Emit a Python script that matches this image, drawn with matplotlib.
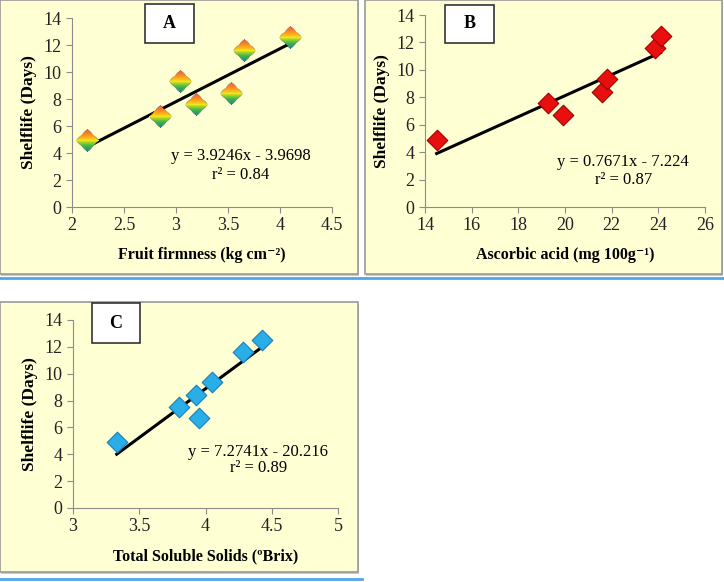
import numpy as np
import matplotlib
matplotlib.use("Agg")
import matplotlib.pyplot as plt
from matplotlib.patches import Rectangle
from matplotlib.offsetbox import OffsetImage, AnnotationBbox

plt.rcParams["font.family"] = ["Liberation Serif", "DejaVu Serif"]

# panel A: fruit firmness
firm_x = [2.15, 2.85, 3.04, 3.19, 3.53, 3.66, 4.10]
firm_y = [4.9, 6.7, 9.3, 7.6, 8.4, 11.6, 12.5]
# panel B: ascorbic acid
asc_x = [14.5, 19.25, 19.9, 21.6, 21.8, 23.85, 24.1]
asc_y = [4.85, 7.6, 6.7, 8.4, 9.3, 11.6, 12.5]
# panel C: total soluble solids
tss_x = [3.33, 3.80, 3.93, 3.95, 4.05, 4.28, 4.43]
tss_y = [4.9, 7.55, 8.4, 6.7, 9.35, 11.6, 12.5]

W, H = 724, 582
BG = "#FFFFD4"

fig = plt.figure(figsize=(W / 100, H / 100), dpi=100)


def fx(px):
    return px / W


def fy(py):
    return 1 - py / H


def panel(x0, y0, x1, y1):
    fig.patches.append(Rectangle((fx(x0) + 0.002, fy(y1) - 0.003), fx(x1 - x0), (y1 - y0) / H,
                                 transform=fig.transFigure, facecolor="#C8C8C8",
                                 edgecolor="none", zorder=-3))
    fig.patches.append(Rectangle((fx(x0), fy(y1)), fx(x1 - x0), (y1 - y0) / H,
                                 transform=fig.transFigure, facecolor=BG,
                                 edgecolor="#9A9A9A", linewidth=1.2, zorder=-2))


def label_box(x0, y0, x1, y1, letter):
    fig.patches.append(Rectangle((fx(x0), fy(y1)), fx(x1 - x0), (y1 - y0) / H,
                                 transform=fig.transFigure, facecolor="white",
                                 edgecolor="#333333", linewidth=1.2, zorder=5))
    fig.text(fx((x0 + x1) / 2), fy((y0 + y1) / 2), letter, ha="center", va="center",
             fontsize=13, fontweight="bold", zorder=6)


def make_axes(l, r, t, b):
    ax = fig.add_axes([fx(l), fy(b), fx(r - l), (b - t) / H])
    ax.set_facecolor("none")
    for s in ["top", "right"]:
        ax.spines[s].set_visible(False)
    for s in ["left", "bottom"]:
        ax.spines[s].set_color("#8C8C8C")
    ax.tick_params(colors="#8C8C8C", labelcolor="#222222", labelsize=13, length=4, direction="out")
    ax.set_ylim(0, 14)
    ax.set_yticks(range(0, 15, 2))
    ax.set_ylabel("Shelflife (Days)", fontsize=12.5, fontweight="bold", labelpad=5)
    return ax


def fit_line(ax, xs, slope, icpt):
    xx = np.array([min(xs), max(xs)])
    ax.plot(xx, slope * xx + icpt, color="black", linewidth=2.2, zorder=2)


def rainbow_diamond(n=19):
    img = np.zeros((n, n, 4))
    stops = [(0.0, (0.93, 0.35, 0.25)), (0.3, (1.0, 0.62, 0.1)), (0.5, (0.95, 0.9, 0.1)),
             (0.7, (0.3, 0.75, 0.25)), (1.0, (0.1, 0.5, 0.55))]
    c = (n - 1) / 2
    for i in range(n):
        t = i / (n - 1)
        for k in range(len(stops) - 1):
            if stops[k][0] <= t <= stops[k + 1][0]:
                f = (t - stops[k][0]) / (stops[k + 1][0] - stops[k][0])
                col = [stops[k][1][j] + f * (stops[k + 1][1][j] - stops[k][1][j]) for j in range(3)]
                break
        for j in range(n):
            if abs(i - c) + abs(j - c) <= c:
                img[i, j, :3] = col
                img[i, j, 3] = 1
    return img


# panel frames and separator lines
panel(0, 0, 358, 274)
panel(365, 0, 722, 274)
panel(0, 302, 358, 572)
fig.add_artist(plt.Line2D([0, 1], [fy(278), fy(278)], color="#4DA8E8", linewidth=2))
fig.add_artist(plt.Line2D([0, fx(362)], [fy(579), fy(579)], color="#4DA8E8", linewidth=2))

# A
axA = make_axes(72, 332, 18, 207)
axA.set_xlim(2, 4.5)
axA.set_xticks([2, 2.5, 3, 3.5, 4, 4.5])
axA.set_xticklabels(["2", "2.5", "3", "3.5", "4", "4.5"])
fit_line(axA, firm_x, 3.9246, -3.9698)
dia = rainbow_diamond()
for x, y in zip(firm_x, firm_y):
    ab = AnnotationBbox(OffsetImage(dia, zoom=0.85), (x, y), frameon=False, zorder=3)
    axA.add_artist(ab)
axA.set_xlabel("Fruit firmness (kg cm⁻²)", fontsize=11.5, fontweight="bold", labelpad=9)
axA.text(3.62, 3.75, "y = 3.9246x - 3.9698", ha="center", va="center", fontsize=12)
axA.text(3.62, 2.4, "r² = 0.84", ha="center", va="center", fontsize=12)
label_box(145, 4, 194, 43, "A")

# B
axB = make_axes(425, 705, 15, 207)
axB.set_xlim(14, 26)
axB.set_xticks(range(14, 27, 2))
fit_line(axB, asc_x, 0.7671, -7.224)
axB.scatter(asc_x, asc_y, marker="D", s=110, color="#E8100E", edgecolors="#A00000",
            linewidths=0.8, zorder=3)
axB.set_xlabel("Ascorbic acid (mg 100g⁻¹)", fontsize=11.5, fontweight="bold", labelpad=9)
axB.text(22.5, 3.3, "y = 0.7671x - 7.224", ha="center", va="center", fontsize=12)
axB.text(22.5, 1.95, "r² = 0.87", ha="center", va="center", fontsize=12)
label_box(445, 5, 494, 43, "B")

# C
axC = make_axes(73, 338, 320, 508)
axC.set_xlim(3, 5)
axC.set_xticks([3, 3.5, 4, 4.5, 5])
axC.set_xticklabels(["3", "3.5", "4", "4.5", "5"])
fit_line(axC, tss_x, 7.2741, -20.216)
axC.scatter(tss_x, tss_y, marker="D", s=110, color="#29AEE8", edgecolors="#1A7FB8",
            linewidths=0.8, zorder=3)
axC.set_xlabel("Total Soluble Solids (ºBrix)", fontsize=11.5, fontweight="bold", labelpad=9)
axC.text(4.4, 4.15, "y = 7.2741x - 20.216", ha="center", va="center", fontsize=12)
axC.text(4.4, 2.95, "r² = 0.89", ha="center", va="center", fontsize=12)
label_box(92, 303, 140, 343, "C")

fig.savefig("out.png", dpi=100)
